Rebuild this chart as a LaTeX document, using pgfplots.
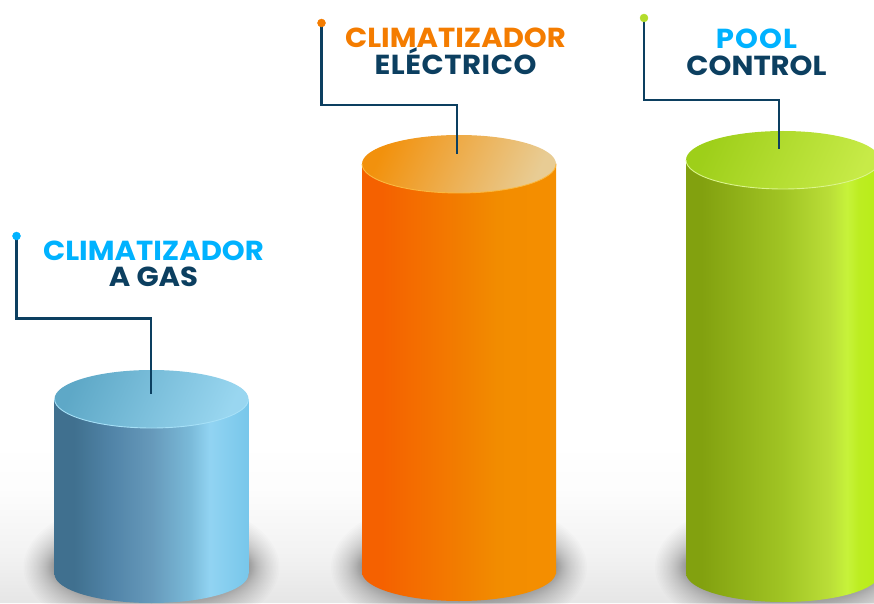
\documentclass[border=0pt]{standalone}
\usepackage{fontspec}
\usepackage{pgfplots}
\pgfplotsset{compat=1.18}
\setmainfont{Poppins}[FakeStretch=1.06]
\definecolor{ink}{HTML}{0C3F60}
\definecolor{sky}{HTML}{00B2FF}
\definecolor{org}{HTML}{F47C00}
\definecolor{lim}{HTML}{B3DC2C}
\pgfdeclareverticalshading{floor}{100bp}{
 rgb(0bp)=(0.90,0.90,0.90);
 rgb(25bp)=(0.90,0.90,0.90);
 rgb(40bp)=(0.95,0.95,0.95);
 rgb(60bp)=(0.99,0.99,0.99);
 rgb(75bp)=(1,1,1);
 rgb(100bp)=(1,1,1)}
\pgfdeclarehorizontalshading{bodyblue}{100bp}{
 rgb(0bp)=(0.25,0.44,0.56);
 rgb(25bp)=(0.25,0.44,0.56);
 rgb(30bp)=(0.25,0.44,0.56);
 rgb(40bp)=(0.32,0.52,0.66);
 rgb(50bp)=(0.40,0.60,0.73);
 rgb(60bp)=(0.48,0.73,0.85);
 rgb(65bp)=(0.57,0.83,0.95);
 rgb(75bp)=(0.47,0.78,0.92);
 rgb(100bp)=(0.47,0.78,0.92)}
\pgfdeclarehorizontalshading{bodyorange}{100bp}{
 rgb(0bp)=(0.96,0.38,0);
 rgb(25bp)=(0.96,0.38,0);
 rgb(30bp)=(0.96,0.38,0);
 rgb(50bp)=(0.95,0.49,0);
 rgb(60bp)=(0.95,0.55,0);
 rgb(75bp)=(0.96,0.56,0);
 rgb(100bp)=(0.96,0.56,0)}
\pgfdeclarehorizontalshading{bodygreen}{100bp}{
 rgb(0bp)=(0.51,0.63,0.06);
 rgb(25bp)=(0.51,0.63,0.06);
 rgb(29bp)=(0.51,0.63,0.06);
 rgb(50bp)=(0.63,0.77,0.14);
 rgb(62bp)=(0.73,0.87,0.22);
 rgb(66.5bp)=(0.78,0.95,0.23);
 rgb(69.5bp)=(0.74,0.93,0.13);
 rgb(75bp)=(0.72,0.93,0.09);
 rgb(100bp)=(0.72,0.93,0.09)}
\pgfdeclareplotmark{capblue}{\path[draw=none,left color={rgb,1:red,0.37;green,0.66;blue,0.78},right color={rgb,1:red,0.60;green,0.84;blue,0.94},shading angle=65] (0pt,0pt) ellipse (97pt and 29pt);
 \path[draw,line width=0.9pt,color={rgb,1:red,0.65;green,0.88;blue,0.97}] (-97pt,0pt) arc (180:360:97pt and 29pt);}
\pgfdeclareplotmark{caporange}{\path[draw=none,left color={rgb,1:red,0.95;green,0.57;blue,0.05},right color={rgb,1:red,0.91;green,0.80;blue,0.58},shading angle=65] (0pt,0pt) ellipse (97pt and 29pt);
 \path[draw,line width=0.9pt,color={rgb,1:red,0.98;green,0.72;blue,0.25}] (-97pt,0pt) arc (180:360:97pt and 29pt);}
\pgfdeclareplotmark{capgreen}{\path[draw=none,left color={rgb,1:red,0.62;green,0.81;blue,0.10},right color={rgb,1:red,0.78;green,0.92;blue,0.28},shading angle=65] (0pt,0pt) ellipse (97pt and 29pt);
 \path[draw,line width=0.9pt,color={rgb,1:red,0.86;green,0.96;blue,0.55}] (-97pt,0pt) arc (180:360:97pt and 29pt);}
\pgfdeclareplotmark{baseblue}{\path[draw=none,shade,shading=bodyblue] (0pt,0pt) ellipse (97pt and 29pt);}
\pgfdeclareplotmark{baseorange}{\path[draw=none,shade,shading=bodyorange] (0pt,0pt) ellipse (97pt and 29pt);}
\pgfdeclareplotmark{basegreen}{\path[draw=none,shade,shading=bodygreen] (0pt,0pt) ellipse (97pt and 29pt);}
\pgfdeclareplotmark{glow}{\foreach \k in {0,...,39}{\pgfmathsetmacro{\tt}{(1-\k/39)*(1-\k/39)}\pgfmathsetmacro{\rx}{96+32*\tt}\pgfmathsetmacro{\ry}{30+40*\tt}\path[draw=none,fill=black,opacity=0.012] (0pt,6pt) ellipse ({\rx pt} and {\ry pt});}}
\pgfplotsset{pic/.style={scale only axis,width=874pt,height=603pt,hide axis,
 xmin=0,xmax=874,ymin=-30,ymax=573,clip=true}}
\newcommand{\lab}[5]{\node[anchor=base,text=#1,font=\fontsize{27.5}{27.5}\selectfont\bfseries\addfontfeature{LetterSpace=#2},inner sep=0] at (axis cs:#3,#4) {#5};}
\begin{document}
\begin{tikzpicture}
\begin{axis}[name=a,pic]
% floor shading
\addplot[draw=none,shade,shading=floor] coordinates {(0,130) (874,130) (874,-30) (0,-30)} \closedcycle;
% soft shadows
\addplot[only marks,mark=glow] coordinates {(151.5,0) (459,0) (783,0)};
\end{axis}
\begin{axis}[pic]
% bodies: height above the common base line
\addplot[ybar,bar width=194pt,bar shift=0pt,draw=none,shade,shading=bodyblue] coordinates {(151.5,174)};
\addplot[ybar,bar width=194pt,bar shift=0pt,draw=none,shade,shading=bodyorange] coordinates {(459,409)};
\addplot[ybar,bar width=194pt,bar shift=0pt,draw=none,shade,shading=bodygreen] coordinates {(783,413)};
% bases
\addplot[only marks,mark=baseblue] coordinates {(151.5,-1)};
\addplot[only marks,mark=baseorange] coordinates {(459,1)};
\addplot[only marks,mark=basegreen] coordinates {(783,0)};
% caps
\addplot[only marks,mark=capblue] coordinates {(151.5,174)};
\addplot[only marks,mark=caporange] coordinates {(459,409)};
\addplot[only marks,mark=capgreen] coordinates {(783,413)};
\end{axis}
\begin{axis}[pic]
% leaders
\addplot[ink,line width=2.2pt,line join=miter] coordinates {(16.5,337) (16.5,254.5) (151,254.5) (151,179)};
\addplot[ink,line width=2.2pt,line join=miter] coordinates {(321.5,550) (321.5,468) (457,468) (457,419)};
\addplot[ink,line width=2.2pt,line join=miter] coordinates {(644,555) (644,473) (779,473) (779,424)};
\addplot[only marks,mark=*,mark size=4pt,mark options={draw=sky,fill=sky}] coordinates {(16.5,337)};
\addplot[only marks,mark=*,mark size=4pt,mark options={draw=org,fill=org}] coordinates {(321.5,550)};
\addplot[only marks,mark=*,mark size=4pt,mark options={draw=lim,fill=lim}] coordinates {(644,555)};
% labels
\lab{sky}{0}{153.5}{312}{CLIMATIZADOR}
\lab{ink}{0}{153.5}{286}{A GAS}
\lab{org}{0}{455.5}{525}{CLIMATIZADOR}
\lab{ink}{2}{455.5}{498}{ELÉCTRICO}
\lab{sky}{4}{756.5}{524}{POOL}
\lab{ink}{0}{756.5}{497}{CONTROL}
\end{axis}
\pgfresetboundingbox
\path[use as bounding box] (a.south west) rectangle (a.north east);
\end{tikzpicture}
\end{document}
